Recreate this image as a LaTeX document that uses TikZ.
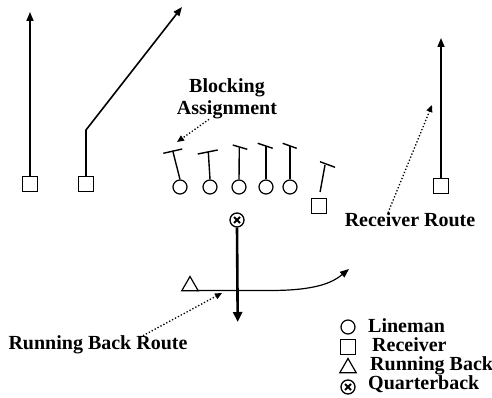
\documentclass[tikz,border=0pt]{standalone}
\usepackage{fontspec}
\setmainfont{Liberation Serif}
\usetikzlibrary{positioning,shapes.geometric,arrows.meta}
\tikzset{
  receiver/.style={rectangle, draw, line width=1.2pt, fill=white, minimum size=15pt, inner sep=0pt},
  lineman/.style={circle, draw, line width=1.2pt, fill=white, minimum size=14pt, inner sep=0pt},
  back/.style={regular polygon, regular polygon sides=3, draw, line width=1.2pt, fill=white, minimum size=19pt, inner sep=0pt},
  quarter/.style={circle, draw, line width=1.3pt, fill=white, minimum size=14pt, inner sep=0pt,
    path picture={\draw[line width=1.8pt] ([shift={(-3pt,-3pt)}]path picture bounding box.center) -- ([shift={(3pt,3pt)}]path picture bounding box.center)
      ([shift={(-3pt,3pt)}]path picture bounding box.center) -- ([shift={(3pt,-3pt)}]path picture bounding box.center);}},
  route/.style={line width=1.6pt, -{Triangle[length=9pt,width=7pt]}},
  block/.style={line width=1.4pt},
  note/.style={dotted, line width=1.3pt, -{Triangle[length=7pt,width=6pt]}},
  label/.style={font=\bfseries\fontsize{20}{22}\selectfont, inner sep=0pt}
}
\begin{document}
\begin{tikzpicture}[x=1pt, y=-1pt]
  \useasboundingbox (0,0) rectangle (492,398);
  % players
  \node [receiver] (wrLeft) at (30,184) {};
  \node [receiver] (wrSlot) at (86,184) {};
  \node [receiver] (wrRight) at (441,186) {};
  \node [receiver] (te) at (319,206) {};
  \foreach \i/\x in {1/180,2/210,3/239,4/266,5/290}
    \node [lineman] (ol\i) at (\x,187) {};
  \node [quarter] (qb) at (237,220) {};
  \node [back] (rb) at (190,286) {};

  % receiver routes
  \coordinate (wrLeftEnd) at (30,12);
  \coordinate (wrSlotCut) at (86,130);
  \coordinate (wrSlotEnd) at (182,7);
  \coordinate (wrRightEnd) at (441,38);
  \draw [route] (wrLeft.north) -- (wrLeftEnd);
  \draw [route] (wrSlot.north) -- (wrSlotCut) -- (wrSlotEnd);
  \draw [route] (wrRight.north) -- (wrRightEnd);

  % blocking
  \foreach \i/\tx/\ty/\ax/\ay/\bx/\by in {1/172.7/150.7/163.3/153.3/182.3/149,
      2/208.3/151.7/197.7/154/217.7/150, 3/239.3/147.5/232.7/145/247.3/149.3,
      4/266/146/257.7/143.3/272.7/148.3, 5/290/146/282.7/143.3/296.7/148.3} {
    \coordinate (blk\i) at (\tx,\ty);
    \draw [block] (ol\i.north) -- (blk\i);
    \draw [block] (\ax,\ay) -- (\bx,\by);
  }
  \coordinate (blkTe) at (325,165);
  \draw [block, shorten <=6pt] (te.north) -- (blkTe);
  \draw [block] (320,161.7) -- (335,167.3);

  % backfield
  \coordinate (qbEnd) at (237.7,322);
  \draw [line width=2.6pt, -{Triangle[length=10pt,width=9pt]}] (qb.south) -- (qbEnd);
  \coordinate (rbEnd) at (349,269);
  \draw [route, line width=1.2pt] (rb.east |- 0,290.5) -- (270,290.5)
    .. controls (315,290.5) and (332,283) .. (rbEnd);

  % labels
  \node [label, align=center] (baLabel) at (227,99) {Blocking\\Assignment};
  \coordinate (baTip) at (177,142);
  \draw [note] ([xshift=-18pt]baLabel.south) -- (baTip);
  \node [label] (rrLabel) at (410,220) {Receiver Route};
  \coordinate (rrTip) at (432,105);
  \draw [note] ([xshift=-22pt]rrLabel.north) -- (rrTip);
  \node [label] (rbLabel) at (98,345) {Running Back Route};
  \coordinate (rbTip) at (222,293);
  \draw [note] ([xshift=45pt]rbLabel.north) -- (rbTip);

  % legend
  \node [lineman] (lgLine) at (348,327) {};
  \node [receiver] (lgRec) at (348,347) {};
  \node [back] (lgBack) at (348,368) {};
  \node [quarter] (lgQb) at (348,387) {};
  \node [label, anchor=west] at (368,326) {Lineman};
  \node [label, anchor=west] at (372,345) {Receiver};
  \node [label, anchor=west] at (370,366) {Running Back};
  \node [label, anchor=west] at (368,384) {Quarterback};
\end{tikzpicture}
\end{document}
